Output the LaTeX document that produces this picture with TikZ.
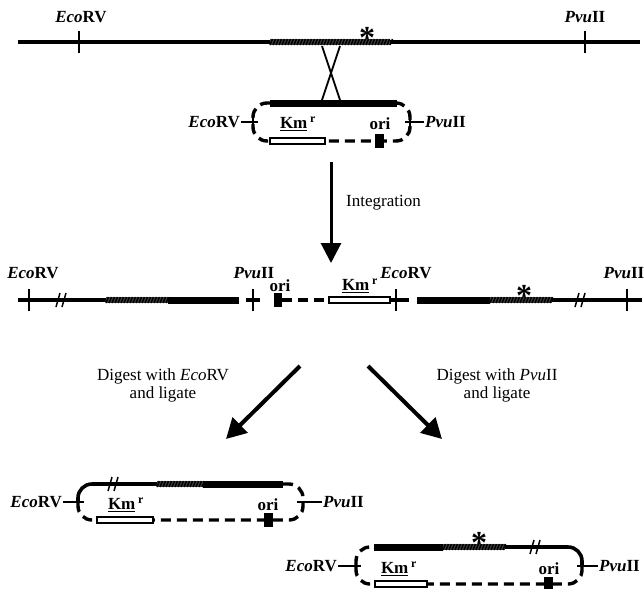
\documentclass[tikz,border=0pt]{standalone}
\usepackage{fontspec}
\setmainfont{Liberation Serif}
\usetikzlibrary{arrows.meta}

\newcommand{\Eco}{\textit{Eco}RV}
\newcommand{\Pvu}{\textit{Pvu}II}
\newcommand{\Km}{\underline{Km}\,\textsuperscript{r}}
\newcommand{\hatchbar}[3]{%
  \draw[line width=6pt, black!75] (#1,#3) -- (#2,#3);
  \pgfmathtruncatemacro{\hn}{(#2-#1)/3}%
  \foreach \k in {0,...,\hn}
    \draw[line width=1.5pt] ({#1+3*\k},#3+3) -- ({#1+3*\k+2.5},#3-3);
}
\newcommand{\cutmark}[2]{%
  \draw[line width=1.5pt] (#1-5,#2+7) -- (#1-1,#2-7) (#1+1,#2+7) -- (#1+5,#2-7);
}

\begin{document}
\begin{tikzpicture}[x=1pt, y=-1pt,
  genome/.style={line width=3.6pt},
  insert/.style={line width=7pt},
  vector/.style={line width=3.4pt, dash pattern=on 10pt off 6pt},
  site/.style={line width=1.6pt},
  kmbox/.style={draw, line width=1.5pt, fill=white},
  enz/.style={inner sep=1pt, font=\fontsize{17}{19}\selectfont\bfseries},
  note/.style={inner sep=1pt, font=\fontsize{17}{18}\selectfont},
  starmark/.style={inner sep=0pt, font=\fontsize{32}{32}\selectfont\bfseries},
  flow/.style={line width=3pt, -{Triangle[length=20pt,width=20pt]}},
  flowd/.style={line width=4pt, -{Triangle[length=20pt,width=21pt]}}]
\useasboundingbox (0,0) rectangle (644,590);

\draw[genome] (18,42) -- (640,42);
\hatchbar{270}{390}{42}
\draw[site] (79,31) -- (79,53);
\draw[site] (585,31) -- (585,53);
\node[enz] (ecoA) at (81,17) {\Eco};
\node[enz] (pvuA) at (585,17) {\Pvu};
\node[starmark, anchor=base] (starA) at (367,48) {*};
\draw[line width=1.8pt] (322,46) -- (340,100) (340,46) -- (322,100);

\draw[insert] (270,103) -- (397,103);
\draw[vector, rounded corners=14pt] (270,103) -| (253,141) -- (270,141);
\draw[vector, rounded corners=14pt] (397,103) -| (410,141) -- (325,141);
\draw[kmbox] (270,138) rectangle (325,144);
\fill (375,134) rectangle (384,148);
\node[enz, anchor=east] (ecoB) at (241,122) {\Eco};
\node[enz, anchor=west] (pvuB) at (424,122) {\Pvu};
\draw[site] (ecoB.east) -- (258,122);
\draw[site] (pvuB.west) -- (405,122);
\draw[site] (253,116) -- (253,128);
\draw[site] (410,116) -- (410,128);
\node[enz] (kmB) at (298,124) {\Km};
\node[enz] (oriB) at (380,124) {ori};

\coordinate (intTop) at (331,162);
\coordinate (intEnd) at (331,263);
\draw[flow] (intTop) -- (intEnd);
\node[note, anchor=west] (intLbl) at (345,203) {Integration};

\draw[genome] (18,300) -- (106,300);
\hatchbar{106}{168}{300}
\draw[insert] (168,300) -- (239,300);
\cutmark{61}{300}
\draw[site] (29,289) -- (29,311);
\draw[genome] (246,300) -- (260,300);
\draw[site] (253,289) -- (253,311);
\fill (274,293) rectangle (282,307);
\draw[vector] (282,300) -- (329,300);
\draw[kmbox] (329,297) rectangle (390,303);
\draw[genome] (390,300) -- (409,300);
\draw[site] (396,289) -- (396,311);
\draw[insert] (417,300) -- (490,300);
\hatchbar{490}{552}{300}
\draw[genome] (552,300) -- (642,300);
\cutmark{580}{300}
\draw[site] (627,289) -- (627,311);
\node[starmark, anchor=base] (starB) at (524,306) {*};
\node[enz] (ecoC) at (33,273) {\Eco};
\node[enz] (pvuC) at (254,273) {\Pvu};
\node[enz] (ecoD) at (406,273) {\Eco};
\node[enz] (pvuD) at (624,273) {\Pvu};
\node[enz] (oriC) at (280,286) {ori};
\node[enz] (kmC) at (360,286) {\Km};

\coordinate (digL0) at (300,366);
\coordinate (digL1) at (226,439);
\coordinate (digR0) at (368,366);
\coordinate (digR1) at (442,439);
\draw[flowd] (digL0) -- (digL1);
\draw[flowd] (digR0) -- (digR1);
\node[note, align=center] (digEco) at (163,385) {Digest with \textit{Eco}RV\\and ligate};
\node[note, align=center] (digPvu) at (497,385) {Digest with \textit{Pvu}II\\and ligate};

\draw[genome, rounded corners=14pt] (78,502) |- (157,484);
\cutmark{113}{484}
\hatchbar{157}{203}{484}
\draw[insert] (203,484) -- (283,484);
\draw[vector, rounded corners=14pt] (283,484) -| (303,520) -- (153,520);
\draw[vector, rounded corners=14pt] (78,502) |- (97,520);
\draw[kmbox] (97,517) rectangle (153,523);
\fill (264,513) rectangle (273,527);
\node[enz, anchor=east] (ecoE) at (63,502) {\Eco};
\node[enz, anchor=west] (pvuE) at (322,502) {\Pvu};
\draw[site] (ecoE.east) -- (84,502);
\draw[site] (pvuE.west) -- (297,502);
\node[enz] (kmE) at (126,505) {\Km};
\node[enz] (oriE) at (268,505) {ori};

\draw[vector, rounded corners=14pt] (356,566) |- (374,547);
\draw[insert] (374,547) -- (443,547);
\hatchbar{443}{505}{547}
\node[starmark, anchor=base] (starF) at (479,553) {*};
\draw[genome, rounded corners=14pt] (505,547) -| (582,566);
\cutmark{535}{547}
\draw[vector, rounded corners=14pt] (582,566) |- (427,584);
\draw[vector, rounded corners=14pt] (356,566) |- (375,584);
\draw[kmbox] (375,581) rectangle (427,587);
\fill (544,577) rectangle (553,589);
\node[enz, anchor=east] (ecoF) at (338,566) {\Eco};
\node[enz, anchor=west] (pvuF) at (598,566) {\Pvu};
\draw[site] (ecoF.east) -- (361,566);
\draw[site] (pvuF.west) -- (577,566);
\node[enz] (kmF) at (399,569) {\Km};
\node[enz] (oriF) at (549,569) {ori};
\end{tikzpicture}
\end{document}
